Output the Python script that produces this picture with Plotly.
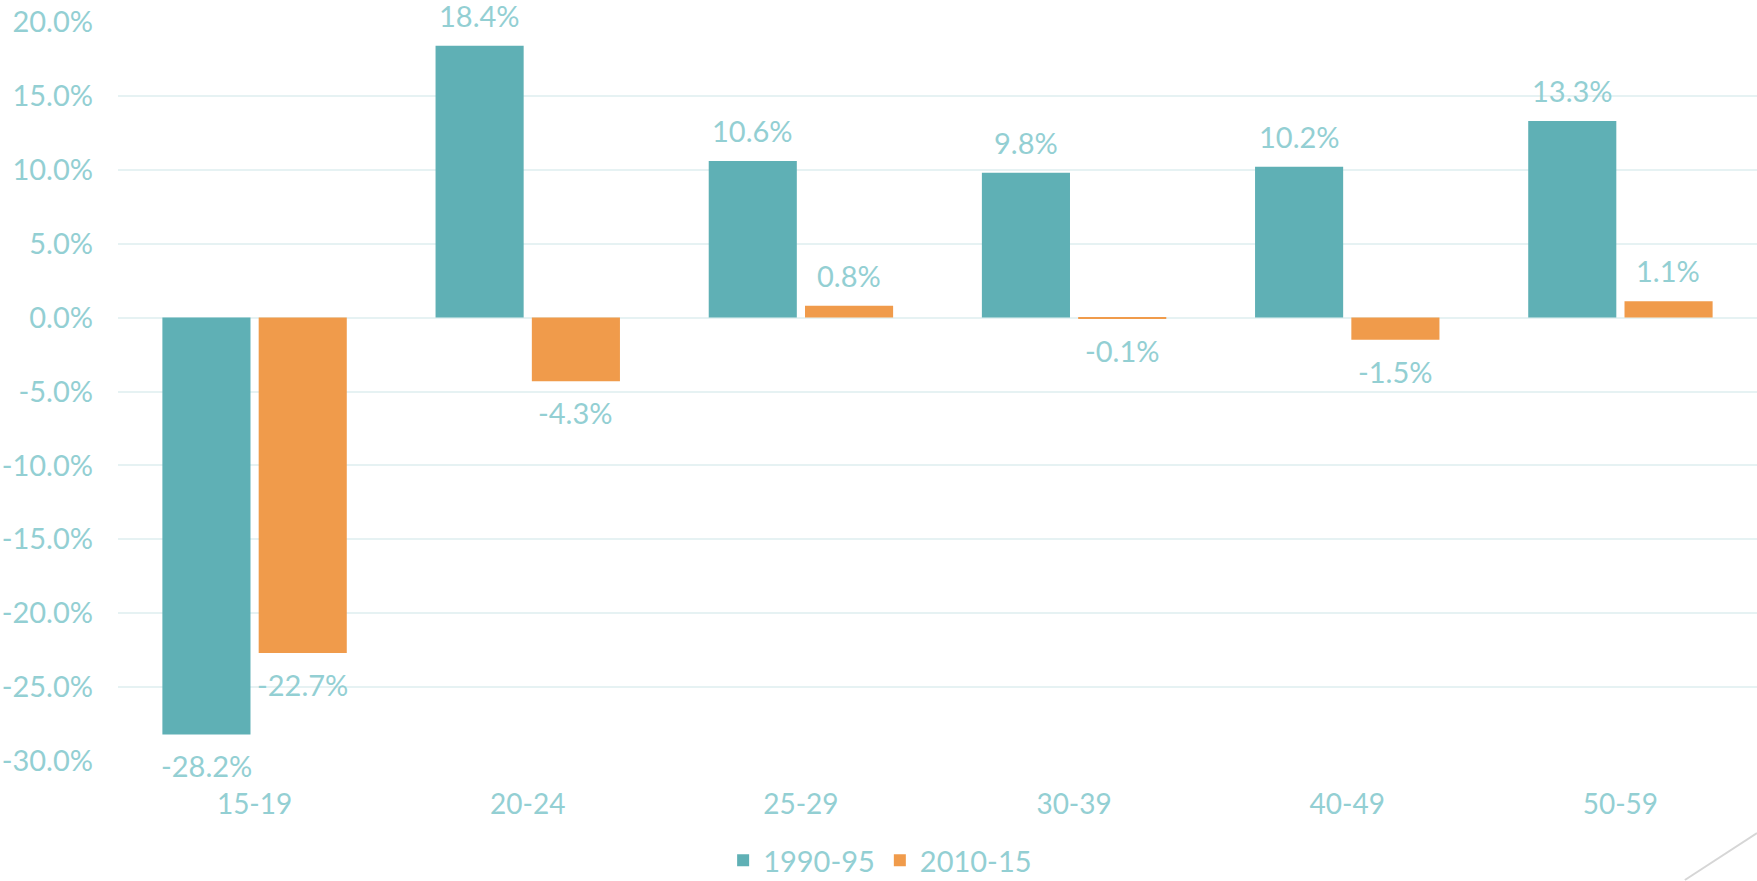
import plotly.graph_objects as go

categories = ["15-19", "20-24", "25-29", "30-39", "40-49", "50-59"]
series_1990 = [-28.2, 18.4, 10.6, 9.8, 10.2, 13.3]
series_2010 = [-22.7, -4.3, 0.8, -0.1, -1.5, 1.1]
series_names = ["1990-95", "2010-15"]
tick_vals = [20, 15, 10, 5, 0, -5, -10, -15, -20, -25, -30]
tick_text = ["20.0%", "15.0%", "10.0%", "5.0%", "0.0%", "-5.0%", "-10.0%",
             "-15.0%", "-20.0%", "-25.0%", "-30.0%"]

TEAL = "#5FB0B5"
ORANGE = "#F09B4B"
TEXT = "#93CFD3"
GRID = "#E6F2F3"
FONT = "Lato"

fig = go.Figure()
fig.add_trace(go.Bar(x=categories, y=series_1990, name=series_names[0],
                     marker=dict(color=TEAL, line=dict(width=0))))
fig.add_trace(go.Bar(x=categories, y=series_2010, name=series_names[1],
                     marker=dict(color=ORANGE, line=dict(width=0))))

annotations = []
for vals, shift in ((series_1990, -48), (series_2010, 48)):
    for c, v in zip(categories, vals):
        pos = v >= 0
        annotations.append(dict(
            x=c, y=v, xref="x", yref="y", text=f"{v:.1f}%", showarrow=False,
            xshift=shift, yshift=11 if pos else -12,
            yanchor="bottom" if pos else "top", xanchor="center",
            font=dict(family=FONT, size=29, color=TEXT)))

fig.update_layout(
    width=1757, height=881, autosize=False,
    margin=dict(l=118, r=0, t=22, b=120, pad=0, autoexpand=False),
    plot_bgcolor="white", paper_bgcolor="white",
    barmode="group", bargap=0.295, bargroupgap=0.085,
    font=dict(family=FONT, size=29, color=TEXT),
    showlegend=True,
    legend=dict(orientation="h", x=0.465, xanchor="center", y=-0.1, yanchor="top",
                font=dict(family=FONT, size=29, color=TEXT), itemwidth=30,
                traceorder="normal"),
    annotations=annotations,
    shapes=[dict(type="line", xref="paper", yref="paper",
                 x0=0.956, y0=-0.161, x1=1.0, y1=-0.0974,
                 line=dict(color="#D6D6D6", width=2))],
)
fig.update_xaxes(showgrid=False, showline=False, zeroline=False, ticks="",
                 automargin=False,
                 tickfont=dict(family=FONT, size=28, color=TEXT), ticklabelstandoff=24)
fig.update_yaxes(range=[-30, 20], tickvals=tick_vals, ticktext=tick_text,
                 automargin=False,
                 showgrid=True, gridcolor=GRID, gridwidth=2,
                 zeroline=True, zerolinecolor=GRID, zerolinewidth=2,
                 showline=False, ticks="", ticklabelstandoff=24,
                 tickfont=dict(family=FONT, size=29, color=TEXT))

fig.write_html("out.html", config={"displayModeBar": False},
               post_script="document.body.style.margin='0';document.body.style.overflow='hidden';")
